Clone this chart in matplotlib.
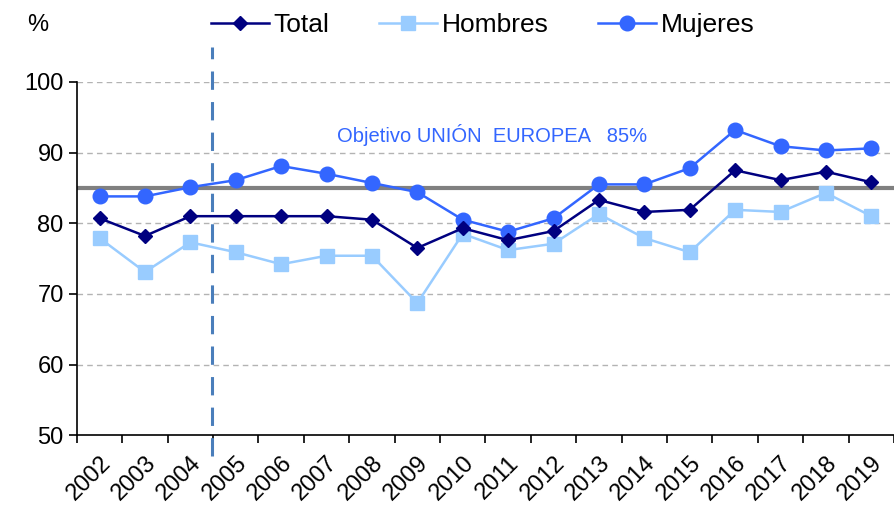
import matplotlib.pyplot as plt
import numpy as np

plt.rcParams['font.family'] = ['Liberation Sans', 'DejaVu Sans']

years = [str(y) for y in range(2002, 2020)]
total = [80.7, 78.2, 81.0, 81.0, 81.0, 81.0, 80.5, 76.5, 79.3, 77.6, 78.9, 83.3, 81.6, 81.9, 87.5, 86.1, 87.3, 85.8]
hombres = [77.9, 73.1, 77.3, 75.9, 74.2, 75.4, 75.4, 68.7, 78.5, 76.2, 77.1, 81.3, 77.9, 75.9, 81.9, 81.6, 84.3, 81.0]
mujeres = [83.8, 83.8, 85.1, 86.1, 88.1, 87.0, 85.7, 84.4, 80.5, 78.8, 80.7, 85.5, 85.5, 87.8, 93.2, 90.9, 90.3, 90.6]
objetivo = 85

fig = plt.figure(figsize=(8.94, 5.09), dpi=100)
ax = fig.add_axes([0.086, 0.145, 0.914, 0.694])

x = np.arange(len(years))

for v in [60, 70, 80, 90, 100]:
    ax.axhline(v, color='#b3b3b3', lw=1, ls=(0, (4, 3)), zorder=1)

ax.axhline(objetivo, color='#808080', lw=3, zorder=2)
ax.text(8.65, 92.5, 'Objetivo UNIÓN  EUROPEA   85%', color='#3366ff', fontsize=14.5,
        ha='center', va='center')

ax.plot(x, total, color='#000080', marker='D', ms=7.5, lw=1.8, label='Total', zorder=4)
ax.plot(x, hombres, color='#99ccff', marker='s', ms=9.5, lw=1.8, label='Hombres', zorder=3)
ax.plot(x, mujeres, color='#3366ff', marker='o', ms=10.5, lw=1.8, label='Mujeres', zorder=3)

ax.plot([2.48, 2.48], [47, 105], color='#4a7ebb', lw=2.2, ls=(0, (6, 4)),
        clip_on=False, zorder=5)

ax.set_xlim(-0.5, len(years) - 0.5)
ax.set_ylim(50, 100)
ax.set_yticks([50, 60, 70, 80, 90, 100])
ax.set_xticks(x)
ax.set_xticklabels(years, rotation=45, ha='right', rotation_mode='anchor')
ax.set_xticks(np.arange(-0.5, len(years), 1), minor=True)
ax.tick_params(axis='x', which='major', length=0, labelsize=17, pad=12)
ax.tick_params(axis='x', which='minor', length=6, width=1.2)
ax.tick_params(axis='y', length=6, width=1.2, labelsize=17)

for s in ['top', 'right']:
    ax.spines[s].set_visible(False)
ax.spines['left'].set_linewidth(1.2)
ax.spines['bottom'].set_linewidth(1.2)

fig.text(0.042, 0.951, '%', fontsize=17, ha='center', va='center')
fig.legend(loc='center', bbox_to_anchor=(0.54, 0.951), ncol=3, frameon=False,
           fontsize=19, handlelength=2.2, handletextpad=0.15, columnspacing=1.9)

fig.savefig('out.png', dpi=100)
